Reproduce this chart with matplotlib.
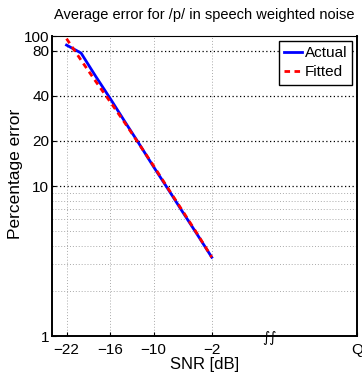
import matplotlib
matplotlib.use('Agg')
import matplotlib.pyplot as plt
from matplotlib.ticker import FixedLocator

plt.rcParams['font.family'] = ['Liberation Sans', 'DejaVu Sans']

# Ошибка распознавания /p/ в речевом шуме
snr = [-22, -20, -18, -16, -14, -12, -10, -8, -6, -4, -2]
actual = [87, 77, 54, 38.4, 27, 19.1, 13.4, 9.5, 6.7, 4.75, 3.35]
fitted = [96, 69, 50, 36.5, 26.5, 19, 13.6, 9.6, 6.8, 4.8, 3.35]

x_ticks = [-22, -16, -10, -2, 18]
x_labels = ['\u221222', '\u221216', '\u221210', '\u22122', 'Q']
y_major = [1, 10, 20, 40, 80, 100]
y_minor = [2, 3, 4, 5, 6, 7, 8, 9]

fig = plt.figure(figsize=(3.62, 3.78), dpi=100)
ax = fig.add_axes([52 / 362, 42 / 378, 305 / 362, 300 / 378])

ax.plot(snr, actual, color='#0000ff', linewidth=2, label='Actual')
ax.plot(snr, fitted, color='#ff0000', linewidth=2, linestyle=(0, (2, 1.6)), label='Fitted')

ax.set_yscale('log')
ax.set_xlim(-24, 18)
ax.set_ylim(1, 100)

ax.xaxis.set_major_locator(FixedLocator(x_ticks))
ax.set_xticklabels(x_labels)
ax.yaxis.set_major_locator(FixedLocator(y_major))
ax.yaxis.set_minor_locator(FixedLocator(y_minor))
ax.set_yticklabels([str(v) for v in y_major])
ax.yaxis.set_minor_formatter(plt.NullFormatter())

# Сетка: основные линии по Y тёмные, остальные светло-серые
for v in [10, 20, 40, 80]:
    ax.axhline(v, color='black', linestyle=(0, (1, 2)), linewidth=0.9, zorder=0)
for v in y_minor:
    ax.axhline(v, color='#aaaaaa', linestyle=(0, (1, 2)), linewidth=0.7, zorder=0)
for v in x_ticks[:-1]:
    ax.axvline(v, color='#aaaaaa', linestyle=(0, (1, 2)), linewidth=0.7, zorder=0)

ax.tick_params(axis='both', which='both', direction='in', labelsize=11,
               length=3, width=0.8)
ax.tick_params(axis='x', pad=5)
ax.tick_params(axis='y', pad=2)
ax.tick_params(axis='y', which='minor', length=0)
for side in ['left', 'bottom', 'right']:
    ax.spines[side].set_linewidth(1.4)
ax.spines['top'].set_linewidth(0.8)

# Разрыв оси X
ax.text(6, 0.975, '\u222b\u222b', fontsize=10, ha='center', va='center',
        family='DejaVu Sans', clip_on=False)

ax.set_title('Average error for /p/ in speech weighted noise', fontsize=10.5, pad=12)
ax.set_xlabel('SNR [dB]', fontsize=12, labelpad=0)
ax.set_ylabel('Percentage error', fontsize=12.5)
ax.yaxis.set_label_coords(-0.095, 0.54)

leg = ax.legend(loc='upper right', fontsize=11, handlelength=1.2, handletextpad=0.15,
                borderpad=0.35, labelspacing=0.35, fancybox=False, framealpha=1,
                edgecolor='black', borderaxespad=0.3)
leg.get_frame().set_linewidth(1.0)

plt.savefig('out.png', dpi=100)
